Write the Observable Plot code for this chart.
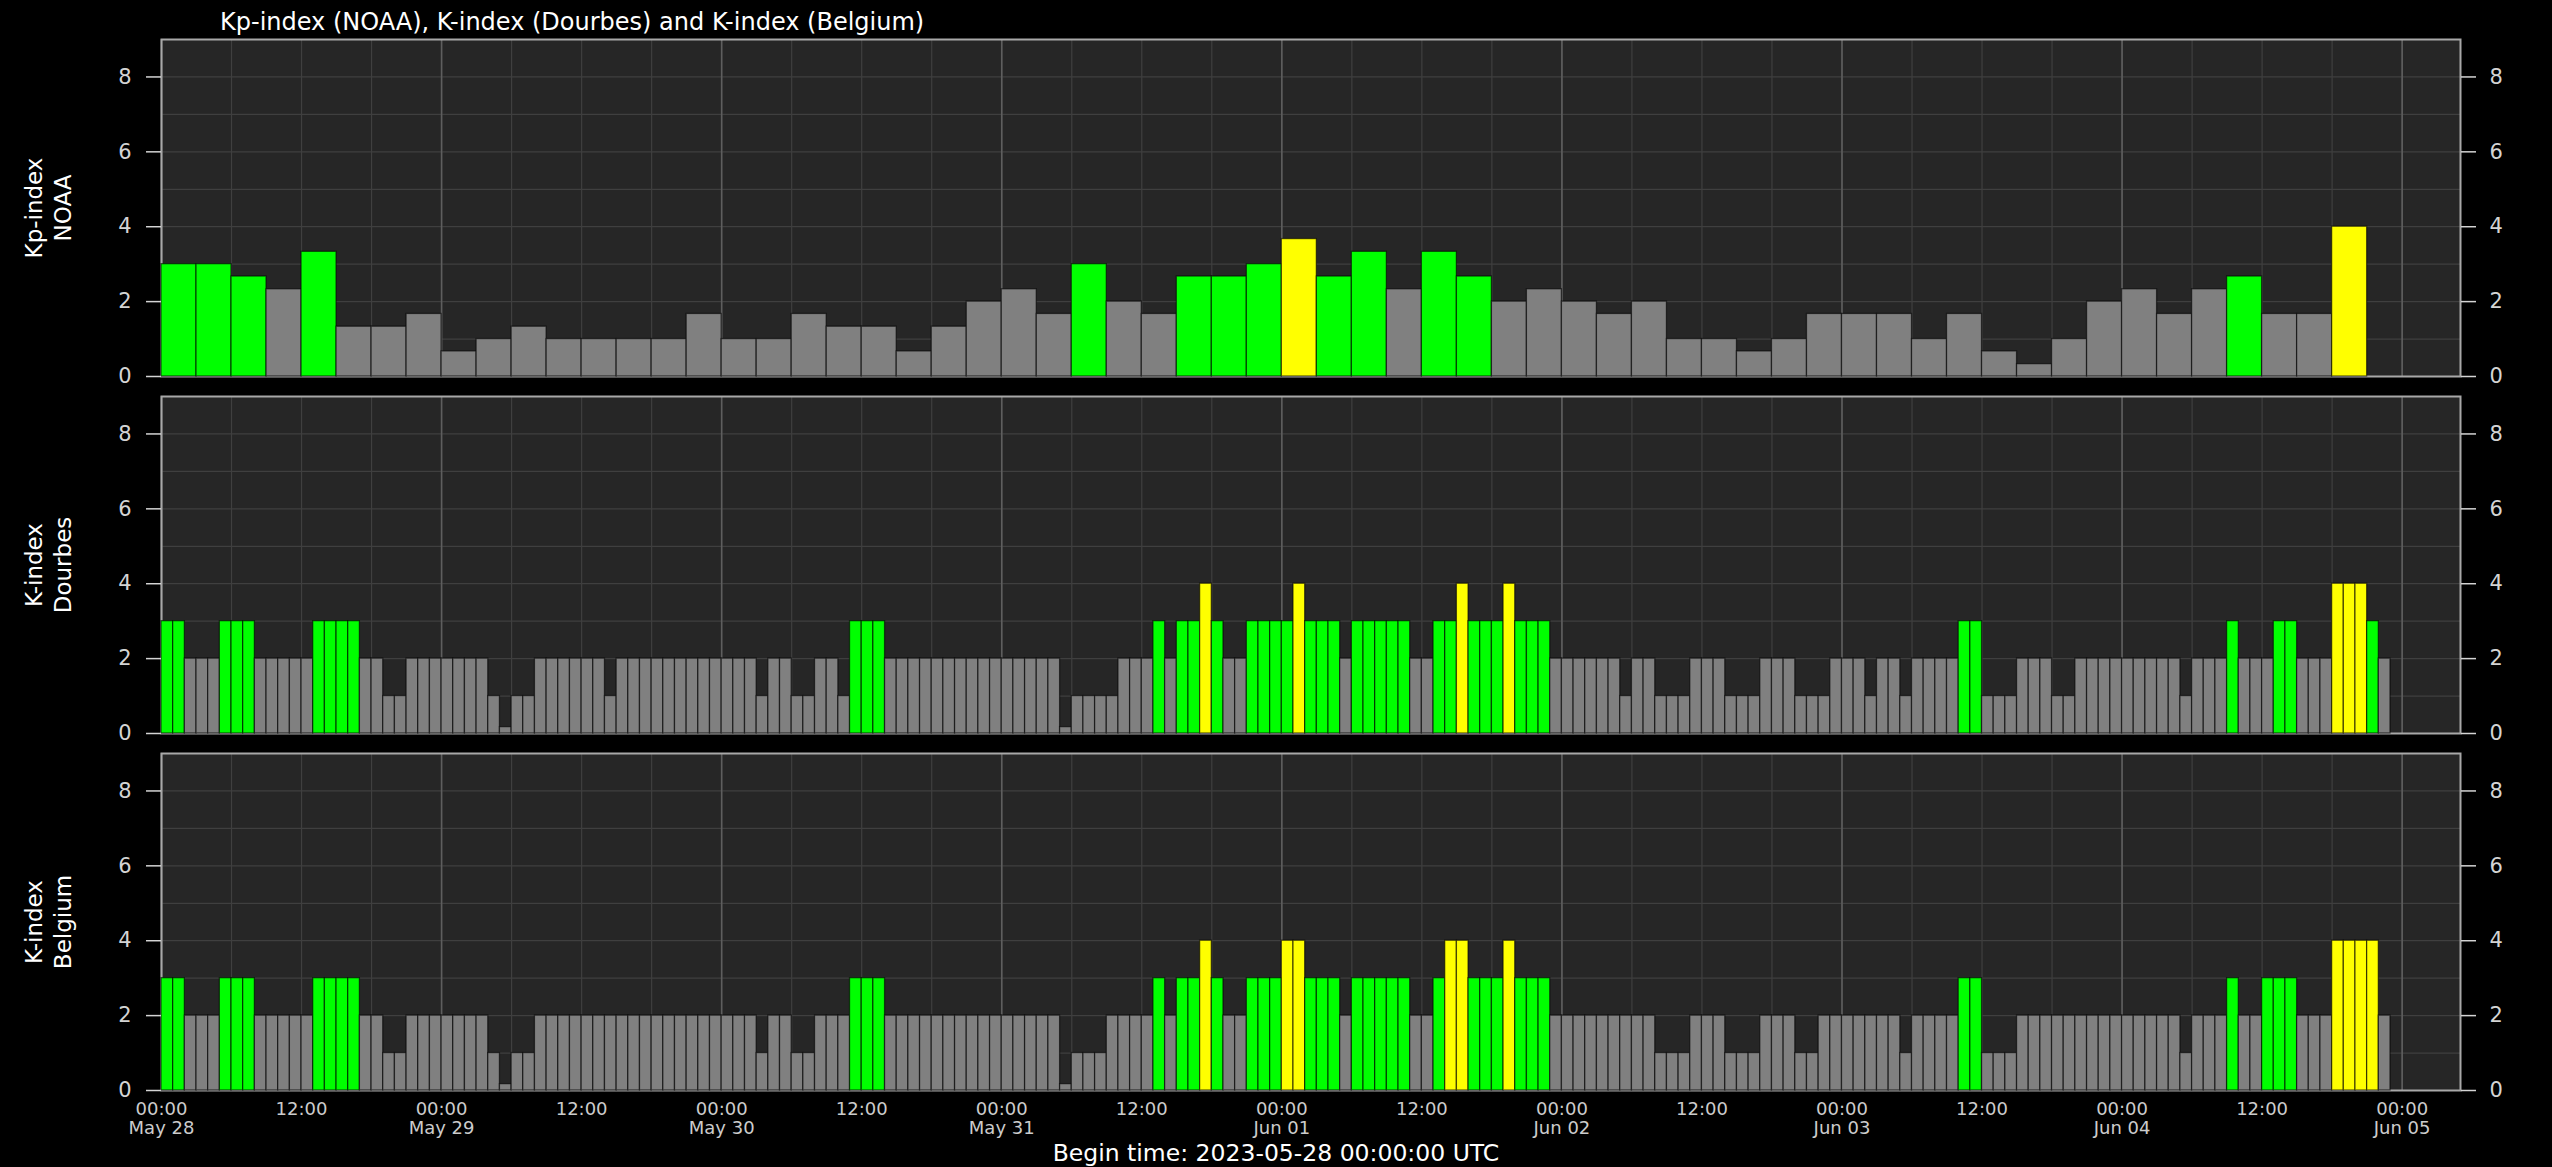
<!DOCTYPE html>
<html>
<head>
<meta charset="utf-8">
<script src="https://cdn.jsdelivr.net/npm/d3@7"></script>
<script src="https://cdn.jsdelivr.net/npm/@observablehq/plot@0.6"></script>
<style>
  html, body { margin: 0; padding: 0; background: #000; }
  #chart { position: relative; width: 2552px; height: 1167px; background: #000; overflow: hidden; font-family: "DejaVu Sans", sans-serif; }
  .title { position: absolute; left: 220px; top: 10px; color: #fff; font-size: 24px; line-height: 24px; white-space: nowrap; }
  .caption { position: absolute; left: 0; width: 2552px; top: 1141px; text-align: center; color: #fff; font-size: 23.5px; line-height: 24px; }
  .panel { position: absolute; left: 0; }
  .panel svg { display: block; }
</style>
</head>
<body>
<div id="chart"></div>
<script>
// ---------- data ----------
const titleText = "Kp-index (NOAA), K-index (Dourbes) and K-index (Belgium)";
const captionText = "Begin time: 2023-05-28 00:00:00 UTC";
const startTime = "2023-05-28T00:00:00Z";
const endTime = "2023-06-05T05:00:00Z";
const yTicks = [0, 2, 4, 6, 8];
const panelLabels = [["Kp-index", "NOAA"], ["K-index", "Dourbes"], ["K-index", "Belgium"]];
const stepHours = [3, 1, 1];

// Kp-index NOAA, 3-hourly
const kpNoaa = [
  3, 3, 2.67, 2.33, 3.33, 1.33, 1.33, 1.67,
  0.67, 1, 1.33, 1, 1, 1, 1, 1.67,
  1, 1, 1.67, 1.33, 1.33, 0.67, 1.33, 2,
  2.33, 1.67, 3, 2, 1.67, 2.67, 2.67, 3,
  3.67, 2.67, 3.33, 2.33, 3.33, 2.67, 2, 2.33,
  2, 1.67, 2, 1, 1, 0.67, 1, 1.67,
  1.67, 1.67, 1, 1.67, 0.67, 0.33, 1, 2,
  2.33, 1.67, 2.33, 2.67, 1.67, 1.67, 4, 0
];

// K-index Dourbes, hourly
const kDourbes = [
  3,3,2,2,2,3,3,3,2,2,2,2,2,3,3,3,3,2,2,1,1,2,2,2,
  2,2,2,2,1,0.17,1,1,2,2,2,2,2,2,1,2,2,2,2,2,2,2,2,2,
  2,2,2,1,2,2,1,1,2,2,1,3,3,3,2,2,2,2,2,2,2,2,2,2,
  2,2,2,2,2,0.17,1,1,1,1,2,2,2,3,2,3,3,4,3,2,2,3,3,3,
  3,4,3,3,3,2,3,3,3,3,3,2,2,3,3,4,3,3,3,4,3,3,3,2,
  2,2,2,2,2,1,2,2,1,1,1,2,2,2,1,1,1,2,2,2,1,1,1,2,
  2,2,1,2,2,1,2,2,2,2,3,3,1,1,1,2,2,2,1,1,2,2,2,2,
  2,2,2,2,2,1,2,2,2,3,2,2,2,3,3,2,2,2,4,4,4,3,2
];

// K-index Belgium, hourly
const kBelgium = [
  3,3,2,2,2,3,3,3,2,2,2,2,2,3,3,3,3,2,2,1,1,2,2,2,
  2,2,2,2,1,0.17,1,1,2,2,2,2,2,2,2,2,2,2,2,2,2,2,2,2,
  2,2,2,1,2,2,1,1,2,2,2,3,3,3,2,2,2,2,2,2,2,2,2,2,
  2,2,2,2,2,0.17,1,1,1,2,2,2,2,3,2,3,3,4,3,2,2,3,3,3,
  4,4,3,3,3,2,3,3,3,3,3,2,2,3,4,4,3,3,3,4,3,3,3,2,
  2,2,2,2,2,2,2,2,1,1,1,2,2,2,1,1,1,2,2,2,1,1,2,2,
  2,2,2,2,2,1,2,2,2,2,3,3,1,1,1,2,2,2,2,2,2,2,2,2,
  2,2,2,2,2,1,2,2,2,3,2,2,3,3,3,2,2,2,4,4,4,4,2
];

const seriesList = [kpNoaa, kDourbes, kBelgium];

// ---------- drawing ----------
const t0 = new Date(startTime);
const t1 = new Date(endTime);
const barColor = v => {
  const k = Math.round(v);
  return k >= 4 ? "#ffff00" : k >= 3 ? "#00ff00" : "#808080";
};
const fmtHour = d3.utcFormat("%H:%M");
const fmtDay = d3.utcFormat("%b %d");
const sixHours = d3.utcHour.every(6).range(t0, t1);
const days = d3.utcDay.range(t0, t1);

const chart = document.getElementById("chart");
const titleDiv = document.createElement("div");
titleDiv.className = "title";
titleDiv.textContent = titleText;
chart.appendChild(titleDiv);

const panelTops = [29, 386, 743];
const innerH = 337;

seriesList.forEach((values, p) => {
  const isLast = p === seriesList.length - 1;
  const step = stepHours[p];
  const data = values.map((v, i) => ({
    start: d3.utcHour.offset(t0, i * step),
    end: d3.utcHour.offset(t0, (i + 1) * step),
    value: v
  }));
  const mt = 10, mb = isLast ? 78 : 10;
  const marks = [
    Plot.frame({fill: "#262626"}),
    Plot.ruleY(d3.range(1, 9), {stroke: "#3f3f3f", strokeWidth: 1.2}),
    Plot.ruleX(sixHours, {stroke: "#3f3f3f", strokeWidth: 1.2}),
    Plot.ruleX(days, {stroke: "#5e5e5e", strokeWidth: 1.6}),
    Plot.frame({stroke: "#a8a8a8", strokeWidth: 2}),
    Plot.rect(data, {
      x1: "start", x2: "end", y1: 0, y2: "value",
      fill: d => barColor(d.value),
      stroke: "#000", strokeOpacity: 0.6, strokeWidth: 1.3, inset: 0
    }),
    Plot.axisY({anchor: "left", ticks: yTicks, tickSize: 15, tickPadding: 15, fontSize: 21, color: "#d4d4d4", strokeWidth: 1.5, label: null}),
    Plot.axisY({anchor: "right", ticks: yTicks, tickSize: 15, tickPadding: 14, fontSize: 21, color: "#d4d4d4", strokeWidth: 1.5, label: null}),
    Plot.text([panelLabels[p].join("\n")], {
      frameAnchor: "left", dx: -114.5, rotate: -90,
      fontSize: 23, fill: "#ffffff", lineHeight: 1.26, textAnchor: "middle", lineAnchor: "middle"
    })
  ];
  if (isLast) {
    marks.push(Plot.axisX({
      ticks: d3.utcHour.every(12), tickSize: 0, tickPadding: 10, fontSize: 18, lineHeight: 1.1,
      color: "#cccccc", label: null,
      tickFormat: d => d.getUTCHours() === 0 ? `${fmtHour(d)}\n${fmtDay(d)}` : fmtHour(d)
    }));
  }
  const svg = Plot.plot({
    width: 2552,
    height: mt + innerH + mb,
    marginTop: mt, marginBottom: mb, marginLeft: 161, marginRight: 92,
    style: {background: "transparent", fontFamily: "DejaVu Sans", overflow: "visible"},
    x: {type: "utc", domain: [t0, t1], axis: null},
    y: {domain: [0, 9], axis: null},
    color: {type: "identity"},
    marks
  });
  const div = document.createElement("div");
  div.className = "panel";
  div.style.top = panelTops[p] + "px";
  div.appendChild(svg);
  chart.appendChild(div);
});

const cap = document.createElement("div");
cap.className = "caption";
cap.textContent = captionText;
chart.appendChild(cap);
</script>
</body>
</html>
